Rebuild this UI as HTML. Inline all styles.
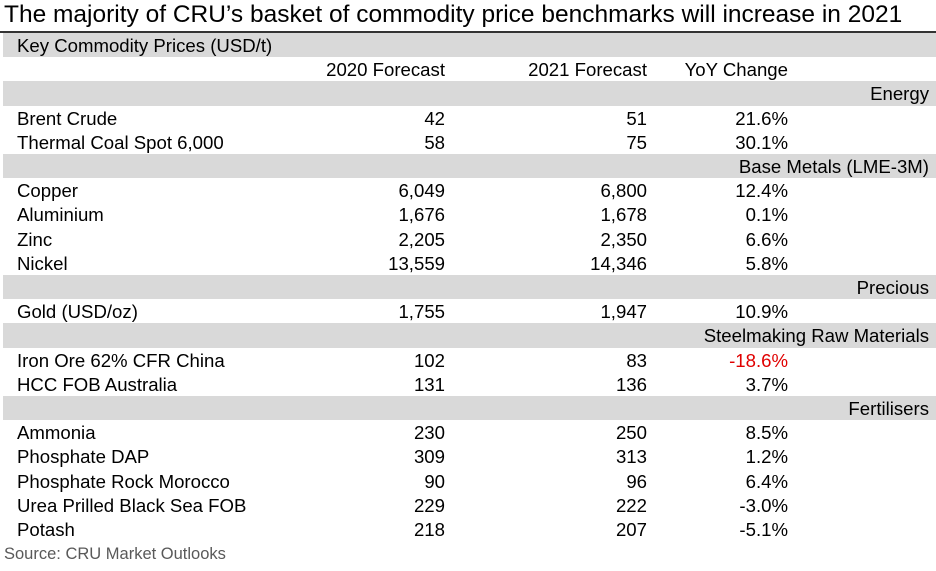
<!DOCTYPE html>
<html><head><meta charset="utf-8"><style>
body{margin:0;width:936px;height:571px;background:#fff;font-family:"Liberation Sans",Arial,sans-serif;color:#000;position:relative;overflow:hidden}
#title{position:absolute;left:4px;top:1px;font-size:24.5px;white-space:nowrap}
#rule{position:absolute;left:0;top:31px;width:936px;height:1.5px;background:#333}
.row{position:absolute;left:3px;width:933px;height:24.2px;font-size:18.6px;line-height:24.2px}
.g{background:#d9d9d9}
.row span{position:absolute;white-space:nowrap;top:1px}
.l{left:14px}.c1{right:491px}.c2{right:289px}.c3{right:148px}.sec{right:7px}
.neg{color:#e00000}
#src{position:absolute;left:4px;top:545px;font-size:16.5px;color:#595959}
</style></head><body>
<div id="title">The majority of CRU’s basket of commodity price benchmarks will increase in 2021</div>
<div id="rule"></div>
<div id="tbl"></div>
<div id="src">Source: CRU Market Outlooks</div>
<script>
const rows=[
["g","Key Commodity Prices (USD/t)"],
["h","2020 Forecast","2021 Forecast","YoY Change"],
["s","Energy"],
["d","Brent Crude","42","51","21.6%"],
["d","Thermal Coal Spot 6,000","58","75","30.1%"],
["s","Base Metals (LME-3M)"],
["d","Copper","6,049","6,800","12.4%"],
["d","Aluminium","1,676","1,678","0.1%"],
["d","Zinc","2,205","2,350","6.6%"],
["d","Nickel","13,559","14,346","5.8%"],
["s","Precious"],
["d","Gold (USD/oz)","1,755","1,947","10.9%"],
["s","Steelmaking Raw Materials"],
["d","Iron Ore 62% CFR China","102","83","-18.6%"],
["d","HCC FOB Australia","131","136","3.7%"],
["s","Fertilisers"],
["d","Ammonia","230","250","8.5%"],
["d","Phosphate DAP","309","313","1.2%"],
["d","Phosphate Rock Morocco","90","96","6.4%"],
["d","Urea Prilled Black Sea FOB","229","222","-3.0%"],
["d","Potash","218","207","-5.1%"]];
const tbl=document.getElementById('tbl');
rows.forEach((r,i)=>{
 const d=document.createElement('div');
 d.className='row'+(r[0]==='g'||r[0]==='s'?' g':'');
 d.style.top=(33+i*24.2)+'px';
 
 
 let h='';
 if(r[0]==='g')h=`<span class="l">${r[1]}</span>`;
 else if(r[0]==='s')h=`<span class="sec">${r[1]}</span>`;
 else if(r[0]==='h')h=`<span class="c1">${r[1]}</span><span class="c2">${r[2]}</span><span class="c3">${r[3]}</span>`;
 else h=`<span class="l">${r[1]}</span><span class="c1">${r[2]}</span><span class="c2">${r[3]}</span><span class="c3${r[4]==='-18.6%'?' neg':''}">${r[4]}</span>`;
 d.innerHTML=h;
 tbl.appendChild(d);
});
</script>
</body></html>
